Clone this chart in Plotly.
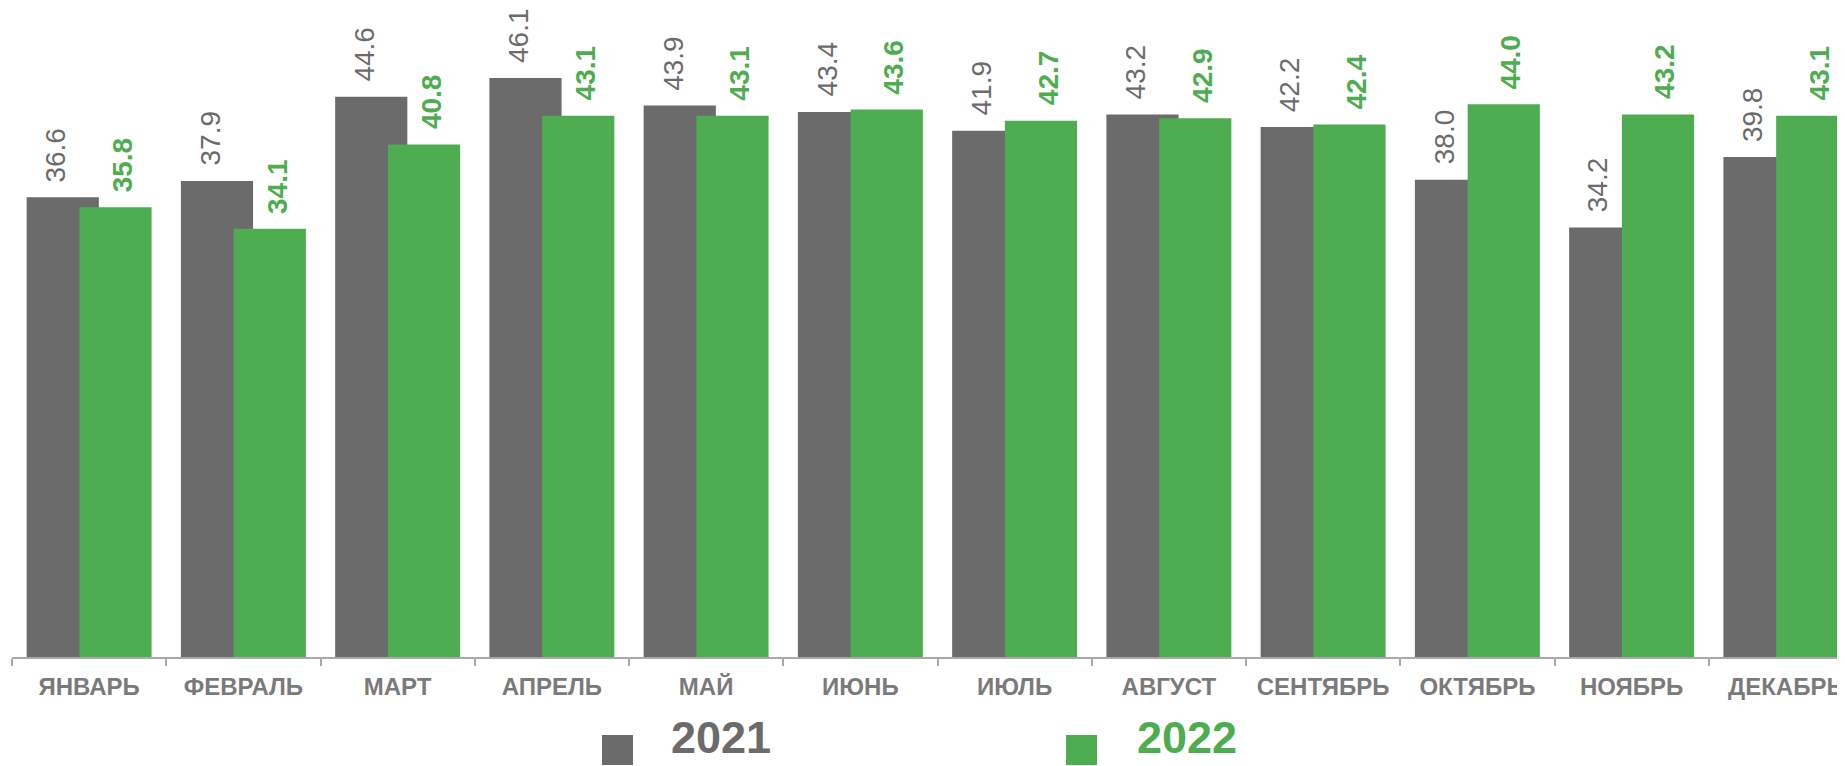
import plotly.graph_objects as go

# ---- data ----
months = ["ЯНВАРЬ", "ФЕВРАЛЬ", "МАРТ", "АПРЕЛЬ", "МАЙ", "ИЮНЬ",
          "ИЮЛЬ", "АВГУСТ", "СЕНТЯБРЬ", "ОКТЯБРЬ", "НОЯБРЬ", "ДЕКАБРЬ"]
values_2021 = [36.6, 37.9, 44.6, 46.1, 43.9, 43.4, 41.9, 43.2, 42.2, 38.0, 34.2, 39.8]
values_2022 = [35.8, 34.1, 40.8, 43.1, 43.1, 43.6, 42.7, 42.9, 42.4, 44.0, 43.2, 43.1]
series_names = ["2021", "2022"]

# ---- styles ----
PAGE_PAD = 8                      # default body margin of the html page
W, H = 1845 - PAGE_PAD, 766 - PAGE_PAD
ML, MR, MT, MB = 12 - PAGE_PAD, 0, 0, 109
GRAY = "#6b6b6b"
GREEN = "#4ead50"
AXIS = "#a9a9a9"
TICKTXT = "#7a7a7a"
FONT = "Liberation Sans, Arial, sans-serif"

BAR_W = 0.468
CENTER_OFF = 0.171  # distance of each bar centre from category centre
PX_PER_UNIT = 12.56
plot_w = W - ML - MR
plot_h = H - MT - MB
Y_MAX = plot_h / PX_PER_UNIT
X_MAX = -0.5 + plot_w / 154.25

series = [
    dict(name=series_names[0], values=values_2021, color=GRAY, off=-CENTER_OFF,
         lab_shift=-7, weight="normal"),
    dict(name=series_names[1], values=values_2022, color=GREEN, off=CENTER_OFF,
         lab_shift=7, weight="bold"),
]

fig = go.Figure()
annotations = []
for s in series:
    fig.add_trace(go.Bar(
        x=months, y=s["values"], name=s["name"],
        width=BAR_W, offset=s["off"] - BAR_W / 2,
        marker=dict(color=s["color"], line=dict(width=0)),
        showlegend=False, hoverinfo="x+y",
    ))
    for i, v in enumerate(s["values"]):
        annotations.append(dict(
            x=i + s["off"], y=v, xref="x", yref="y",
            text=f"{v:.1f}", showarrow=False, textangle=-90,
            xanchor="center", yanchor="bottom",
            xshift=s["lab_shift"], yshift=13,
            font=dict(family=FONT, size=28, color=s["color"], weight=s["weight"]),
        ))


# ---- custom legend (large squares + bold text), page pixel helpers ----
def px_x(px):
    return (px - PAGE_PAD - ML) / plot_w


def px_y(py):
    return (plot_h + MT - (py - PAGE_PAD)) / plot_h


legend_pos = [(602, 669), (1066, 1135)]
shapes = []
for s, (sq_x, tx_x) in zip(series, legend_pos):
    shapes.append(dict(
        type="rect", xref="paper", yref="paper",
        x0=px_x(sq_x), x1=px_x(sq_x + 31), y0=px_y(765), y1=px_y(735),
        fillcolor=s["color"], line=dict(width=0), layer="above",
    ))
    annotations.append(dict(
        x=px_x(tx_x), y=px_y(765), xref="paper", yref="paper",
        text=s["name"], showarrow=False, xanchor="left", yanchor="bottom",
        font=dict(family=FONT, size=45, color=s["color"], weight="bold"),
    ))

fig.update_layout(
    width=W, height=H,
    margin=dict(l=ML, r=MR, t=MT, b=MB, pad=0, autoexpand=False),
    barmode="overlay",
    plot_bgcolor="white", paper_bgcolor="white",
    showlegend=False,
    annotations=annotations,
    shapes=shapes,
    xaxis=dict(
        type="category", range=[-0.5, X_MAX], automargin=False,
        showline=True, linecolor=AXIS, linewidth=1.5,
        ticks="outside", tickson="boundaries", ticklen=7,
        tickcolor=AXIS, tickwidth=1.5, ticklabelstandoff=7,
        tickfont=dict(family=FONT, size=24, color=TICKTXT, weight="bold"),
        showgrid=False, zeroline=False, fixedrange=True,
    ),
    yaxis=dict(range=[0, Y_MAX], visible=False, showgrid=False,
               automargin=False, zeroline=False, fixedrange=True),
)

fig.write_html("out.html")
